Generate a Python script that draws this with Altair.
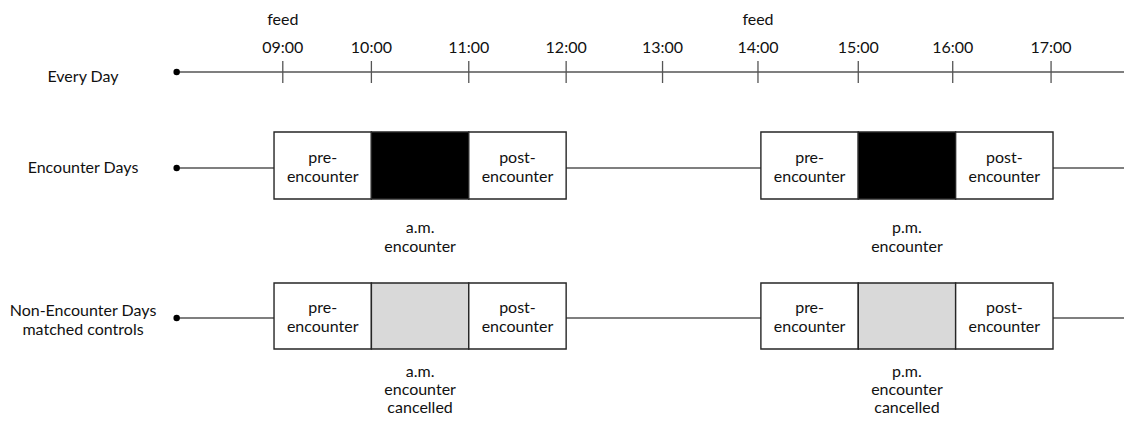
import altair as alt
import pandas as pd

# ---------------- data ----------------
tick_labels = ["09:00", "10:00", "11:00", "12:00", "13:00", "14:00", "15:00", "16:00", "17:00"]
tick_hours = [9.09, 10.0, 11.0, 12.0, 12.99, 13.97, 15.0, 15.97, 16.98]
feed_ticks = ["09:00", "14:00"]

row_names = ["Every Day", "Encounter Days", "Non-Encounter Days\nmatched controls"]
line_from = [8.0]
line_to = [17.8]

seg_start = [9, 10, 11, 14, 15, 16]
seg_end = [10, 11, 12, 15, 16, 17]
seg_phase = ["pre", "encounter", "post", "pre", "encounter", "post"]
seg_text = ["pre-\nencounter", "", "post-\nencounter", "pre-\nencounter", "", "post-\nencounter"]

enc_labels = ["a.m.\nencounter", "p.m.\nencounter"]
ctrl_labels = ["a.m.\nencounter\ncancelled", "p.m.\nencounter\ncancelled"]

# ---------------- tables ----------------
ticks_df = pd.DataFrame({"label": tick_labels, "hour": tick_hours})
feed_df = ticks_df[ticks_df["label"].isin(feed_ticks)].assign(text="feed")
line_df = pd.DataFrame({"start": line_from, "end": line_to})
ends_df = pd.DataFrame({"hour": line_from + line_to})
seg_df = pd.DataFrame({"start": seg_start, "end": seg_end, "phase": seg_phase, "text": seg_text})
enc_start = [s for s, p in zip(seg_start, seg_phase) if p == "encounter"]
enc_end = [e for e, p in zip(seg_end, seg_phase) if p == "encounter"]
enc_df = pd.DataFrame({"start": enc_start, "end": enc_end, "label": enc_labels})
ctrl_df = pd.DataFrame({"start": enc_start, "end": enc_end, "label": ctrl_labels})

# ---------------- style ----------------
W, H = 1116, 409
FONT = "Lato"
FS = 16
LH = 19
INK = "#111111"
LINE = "#555555"
BOX = "#262626"
xs = alt.Scale(domain=[6.268, 17.729], nice=False, zero=False)


def txt(**kw):
    base = dict(font=FONT, fontSize=FS, color=INK, align="center", baseline="middle",
                lineBreak="\n", lineHeight=LH)
    base.update(kw)
    return base


def timeline(yv):
    rule = alt.Chart(line_df).mark_rule(color=LINE, strokeWidth=1.3, clip=True).encode(
        x=alt.X("start:Q", scale=xs, axis=None), x2="end:Q", y=alt.value(yv))
    dots = alt.Chart(ends_df).mark_circle(color="black", opacity=1, size=42, clip=True).encode(
        x=alt.X("hour:Q", scale=xs, axis=None), y=alt.value(yv))
    return [rule, dots]


def row_label(i, yv):
    d = pd.DataFrame({"name": [row_names[i]]})
    return alt.Chart(d).mark_text(**txt()).encode(
        x=alt.value(75), y=alt.value(yv), text="name:N")


def boxes(top, bottom, mid_fill, first_line_y):
    rect = alt.Chart(seg_df).mark_rect(stroke=BOX, strokeWidth=1.4).encode(
        x=alt.X("start:Q", scale=xs, axis=None), x2="end:Q",
        y=alt.value(top), y2=alt.value(bottom),
        fill=alt.condition("datum.phase === 'encounter'", alt.value(mid_fill), alt.value("white")))
    inner = alt.Chart(seg_df).transform_filter("datum.text !== ''").transform_calculate(
        mid="(datum.start + datum.end) / 2").mark_text(**txt()).encode(
        x=alt.X("mid:Q", scale=xs, axis=None), y=alt.value(first_line_y), text="text:N")
    return [rect, inner]


def below(df, yv, **kw):
    return alt.Chart(df).transform_calculate(mid="(datum.start + datum.end) / 2").mark_text(
        **txt(**kw)).encode(
        x=alt.X("mid:Q", scale=xs, axis=None), y=alt.value(yv), text="label:N")


layers = []
# Row 1: every day
layers += timeline(64)
layers.append(alt.Chart(ticks_df).mark_rule(color=LINE, strokeWidth=1.3).encode(
    x=alt.X("hour:Q", scale=xs, axis=None), y=alt.value(53), y2=alt.value(75)))
layers.append(alt.Chart(ticks_df).mark_text(**txt()).encode(
    x=alt.X("hour:Q", scale=xs, axis=None), y=alt.value(40), text="label:N"))
layers.append(alt.Chart(feed_df).mark_text(**txt()).encode(
    x=alt.X("hour:Q", scale=xs, axis=None), y=alt.value(12), text="text:N"))
layers.append(row_label(0, 69))

# Row 2: encounter days
layers += timeline(160)
layers += boxes(124, 191, "black", 150)
layers.append(below(enc_df, 220))
layers.append(row_label(1, 160))

# Row 3: non-encounter days
layers += timeline(310)
layers += boxes(275, 341, "#d9d9d9", 300)
layers.append(below(ctrl_df, 364, lineHeight=18))
layers.append(row_label(2, 303))

chart = alt.layer(*layers).properties(width=W, height=H, padding=0).configure_view(stroke=None)

chart.save("out.html", embed_options={"renderer": "svg", "actions": False})
